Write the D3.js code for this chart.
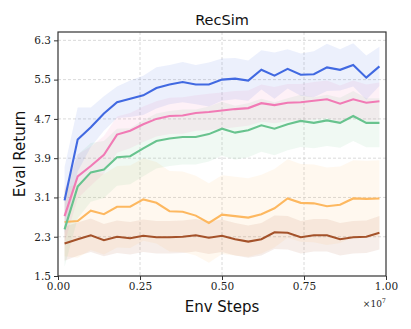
<!DOCTYPE html>
<html>
<head>
<script src="https://cdnjs.cloudflare.com/ajax/libs/d3/7.8.5/d3.min.js"></script>
<style>
  body { margin: 0; background: #fff; }
  .grid line { stroke: #d0d0d0; stroke-dasharray: 3 2; stroke-width: 0.8; }
  .tick text { font-family: "DejaVu Serif", serif; font-size: 10.5px; fill: #222; }
  .axis path, .axis line { stroke: #333; }
  .label { font-family: "DejaVu Sans", sans-serif; fill: #111; }
</style>
</head>
<body>
<svg width="411" height="329"></svg>
<script>
// x positions (in units of 1e7 env steps)
var steps = [0.02, 0.06, 0.10, 0.14, 0.18, 0.22, 0.26, 0.30, 0.34, 0.38, 0.42, 0.46, 0.50,
             0.54, 0.58, 0.62, 0.66, 0.70, 0.74, 0.78, 0.82, 0.86, 0.90, 0.94, 0.98];

var blueMean = [3.04, 4.28, 4.53, 4.81, 5.04, 5.11, 5.18, 5.33, 5.40, 5.45, 5.40, 5.40, 5.50,
                5.52, 5.48, 5.70, 5.58, 5.72, 5.60, 5.61, 5.75, 5.70, 5.80, 5.54, 5.77];
var blueStd  = [0.68, 0.65, 0.40, 0.35, 0.32, 0.37, 0.40, 0.42, 0.40, 0.41, 0.40, 0.45, 0.43,
                0.42, 0.41, 0.40, 0.47, 0.40, 0.43, 0.47, 0.48, 0.42, 0.44, 0.45, 0.40];

var pinkMean = [2.72, 3.53, 3.74, 3.97, 4.38, 4.46, 4.59, 4.70, 4.76, 4.77, 4.82, 4.84, 4.87,
                4.90, 4.92, 5.02, 4.98, 5.03, 5.04, 5.07, 5.10, 5.01, 5.10, 5.03, 5.06];
var pinkStd  = [0.55, 0.45, 0.40, 0.38, 0.37, 0.36, 0.36, 0.36, 0.37, 0.37, 0.36, 0.37, 0.37,
                0.37, 0.36, 0.38, 0.37, 0.38, 0.37, 0.38, 0.38, 0.37, 0.38, 0.37, 0.38];

var greenMean = [2.45, 3.32, 3.61, 3.67, 3.92, 3.94, 4.10, 4.25, 4.30, 4.33, 4.33, 4.39, 4.50,
                 4.42, 4.47, 4.57, 4.50, 4.59, 4.66, 4.62, 4.67, 4.62, 4.76, 4.62, 4.62];
var greenStd  = [0.76, 0.65, 0.60, 0.58, 0.58, 0.57, 0.57, 0.56, 0.56, 0.56, 0.56, 0.56, 0.55,
                 0.55, 0.55, 0.54, 0.54, 0.53, 0.53, 0.52, 0.52, 0.51, 0.51, 0.50, 0.50];

var orangeMean = [2.60, 2.62, 2.83, 2.76, 2.91, 2.91, 3.06, 2.99, 2.82, 2.81, 2.73, 2.58, 2.75,
                  2.72, 2.69, 2.76, 2.88, 3.08, 2.99, 2.98, 2.92, 2.95, 3.08, 3.07, 3.08];
var orangeStd  = [0.70, 0.75, 0.80, 0.82, 0.83, 0.84, 0.84, 0.83, 0.82, 0.82, 0.81, 0.81, 0.80,
                  0.80, 0.80, 0.80, 0.80, 0.80, 0.79, 0.79, 0.79, 0.78, 0.78, 0.78, 0.78];

var brownMean = [2.16, 2.25, 2.33, 2.23, 2.30, 2.27, 2.32, 2.29, 2.29, 2.30, 2.33, 2.28, 2.32,
                 2.25, 2.20, 2.25, 2.39, 2.38, 2.29, 2.33, 2.33, 2.25, 2.29, 2.30, 2.38];
var brownStd  = [0.35, 0.34, 0.34, 0.33, 0.33, 0.33, 0.33, 0.33, 0.33, 0.33, 0.33, 0.33, 0.33,
                 0.33, 0.33, 0.33, 0.34, 0.34, 0.33, 0.33, 0.33, 0.33, 0.33, 0.33, 0.34];

var xTicks = [0, 0.25, 0.5, 0.75, 1.0];
var yTicks = [1.5, 2.3, 3.1, 3.9, 4.7, 5.5, 6.3];

var series = [
  { mean: brownMean,  std: brownStd,  color: "#a4522a" },
  { mean: orangeMean, std: orangeStd, color: "#fdb860" },
  { mean: greenMean,  std: greenStd,  color: "#68c38e" },
  { mean: pinkMean,   std: pinkStd,   color: "#f17ab5" },
  { mean: blueMean,   std: blueStd,   color: "#4169e1" }
];

var svg = d3.select("svg");
var margin = { left: 58, right: 25, top: 32, bottom: 53 };
var W = 411, H = 329;

var x = d3.scaleLinear().domain([0, 1]).range([margin.left, W - margin.right]);
var y = d3.scaleLinear().domain([1.5, 6.47]).range([H - margin.bottom, margin.top]);

svg.append("clipPath").attr("id", "clip")
  .append("rect")
  .attr("x", x(0)).attr("y", y(6.47))
  .attr("width", x(1) - x(0)).attr("height", y(1.5) - y(6.47));

// grid
svg.append("g").attr("class", "grid")
  .selectAll("line").data(xTicks.slice(1, -1)).enter().append("line")
  .attr("x1", d => x(d)).attr("x2", d => x(d))
  .attr("y1", y(6.47)).attr("y2", y(1.5));
svg.append("g").attr("class", "grid")
  .selectAll("line").data(yTicks.slice(1)).enter().append("line")
  .attr("x1", x(0)).attr("x2", x(1))
  .attr("y1", d => y(d)).attr("y2", d => y(d));

var plot = svg.append("g").attr("clip-path", "url(#clip)");

var area = d3.area()
  .x((d, i) => x(steps[i]))
  .y0(d => y(d[0] - d[1]))
  .y1(d => y(d[0] + d[1]));

var line = d3.line()
  .x((d, i) => x(steps[i]))
  .y(d => y(d));

series.forEach(s => {
  plot.append("path")
    .datum(s.mean.map((m, i) => [m, s.std[i]]))
    .attr("d", area)
    .attr("fill", s.color)
    .attr("fill-opacity", 0.1);
});
series.forEach(s => {
  plot.append("path")
    .datum(s.mean)
    .attr("d", line)
    .attr("fill", "none")
    .attr("stroke", s.color)
    .attr("stroke-width", 2.1);
});

// frame
svg.append("rect")
  .attr("x", x(0)).attr("y", y(6.47))
  .attr("width", x(1) - x(0)).attr("height", y(1.5) - y(6.47))
  .attr("fill", "none").attr("stroke", "#333").attr("stroke-width", 1.2);

svg.append("g").attr("class", "axis")
  .attr("transform", "translate(0," + y(1.5) + ")")
  .call(d3.axisBottom(x).tickValues(xTicks).tickFormat(d3.format(".2f")).tickSizeOuter(0).tickSize(4).tickPadding(3));
svg.append("g").attr("class", "axis")
  .attr("transform", "translate(" + x(0) + ",0)")
  .call(d3.axisLeft(y).tickValues(yTicks).tickFormat(d3.format(".1f")).tickSizeOuter(0).tickSize(4).tickPadding(3));
svg.selectAll(".axis .domain").remove();

// labels
svg.append("text").attr("class", "label")
  .attr("x", (x(0) + x(1)) / 2).attr("y", 25)
  .attr("text-anchor", "middle").style("font-size", "14.5px").text("RecSim");
svg.append("text").attr("class", "label")
  .attr("x", (x(0) + x(1)) / 2).attr("y", 312)
  .attr("text-anchor", "middle").style("font-size", "15px").text("Env Steps");
svg.append("text").attr("class", "label")
  .attr("transform", "translate(25," + ((y(1.5) + y(6.47)) / 2) + ") rotate(-90)")
  .attr("text-anchor", "middle").style("font-size", "15px").text("Eval Return");

var mult = svg.append("text")
  .attr("x", 386).attr("y", 307)
  .attr("text-anchor", "end")
  .style("font-family", "DejaVu Serif, serif").style("font-size", "9px").attr("fill", "#222");
mult.append("tspan").text("×10");
mult.append("tspan").attr("dy", -4).style("font-size", "6.5px").text("7");
</script>
</body>
</html>
